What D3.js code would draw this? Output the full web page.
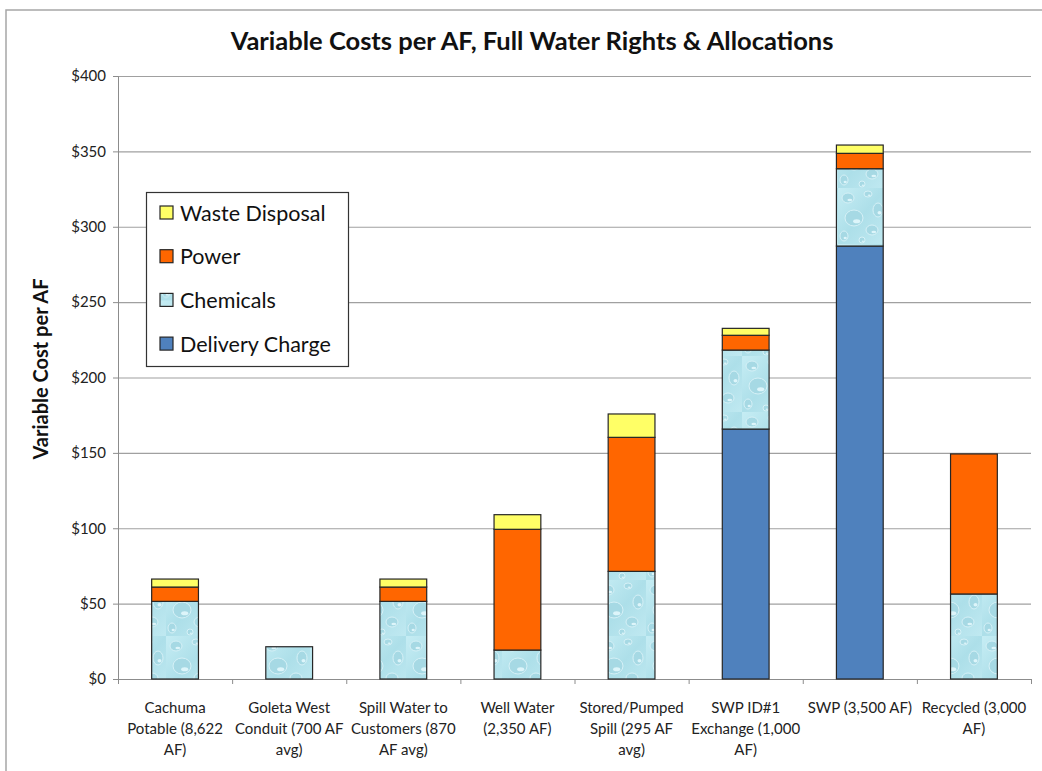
<!DOCTYPE html>
<html>
<head>
<meta charset="utf-8">
<script src="https://cdnjs.cloudflare.com/ajax/libs/d3/7.8.5/d3.min.js"></script>
<style>
  body { margin: 0; background: #fff; }
  svg text { font-family: "Lato", "Open Sans", sans-serif; }
</style>
</head>
<body>
<div id="chart"></div>
<script>
// Data
var categories = [
  "Cachuma|Potable (8,622|AF)",
  "Goleta West|Conduit (700 AF|avg)",
  "Spill Water to|Customers (870|AF avg)",
  "Well Water|(2,350 AF)",
  "Stored/Pumped|Spill (295 AF|avg)",
  "SWP ID#1|Exchange (1,000|AF)",
  "SWP (3,500 AF)",
  "Recycled (3,000|AF)"
];
var delivery = [0, 0, 0, 0, 0, 165.8, 287.2, 0];
var chemicals = [51.5, 21.4, 51.5, 19.2, 71.4, 52.4, 51.3, 56.4];
var power = [9.5, 0, 9.5, 80.1, 88.9, 9.8, 10.2, 92.9];
var waste = [5.3, 0, 5.3, 9.7, 15.5, 4.6, 5.5, 0];
var yTicks = [0, 50, 100, 150, 200, 250, 300, 350, 400];

var seriesKeys = ["delivery", "chemicals", "power", "waste"];
var seriesNames = {
  delivery: "Delivery Charge",
  chemicals: "Chemicals",
  power: "Power",
  waste: "Waste Disposal"
};
var seriesFill = {
  delivery: "#4f81bd",
  chemicals: "url(#drops)",
  power: "#ff6600",
  waste: "#ffff66"
};

var rows = categories.map(function(c, i) {
  return { cat: c, delivery: delivery[i], chemicals: chemicals[i], power: power[i], waste: waste[i] };
});

var svgWidth = 1042;
var svgHeight = 771;
var margin = { top: 76, left: 118, right: 11, bottom: 92 };
var chartWidth = svgWidth - margin.left - margin.right;
var chartHeight = svgHeight - margin.top - margin.bottom;

var svg = d3.select("#chart")
  .append("svg")
  .attr("width", svgWidth)
  .attr("height", svgHeight);

// water droplet texture for chemicals
var defs = svg.append("defs");
var grad = defs.append("linearGradient")
  .attr("id", "dropBg")
  .attr("x1", 0).attr("y1", 0).attr("x2", 1).attr("y2", 1);
grad.append("stop").attr("offset", "0%").attr("stop-color", "#c6edf4");
grad.append("stop").attr("offset", "50%").attr("stop-color", "#addfe9");
grad.append("stop").attr("offset", "100%").attr("stop-color", "#c0e9f1");

var pat = defs.append("pattern")
  .attr("id", "drops")
  .attr("patternUnits", "userSpaceOnUse")
  .attr("width", 48)
  .attr("height", 56);
pat.append("rect").attr("width", 48).attr("height", 56).attr("fill", "url(#dropBg)");
var dropList = [[10, 10, 6, 5], [30, 6, 4, 3], [40, 22, 5, 7], [16, 30, 9, 8], [34, 42, 6, 5], [6, 48, 4, 5], [24, 52, 3, 3]];
dropList.forEach(function(d) {
  pat.append("ellipse")
    .attr("cx", d[0]).attr("cy", d[1]).attr("rx", d[2]).attr("ry", d[3])
    .attr("fill", "#a6d9e4")
    .attr("stroke", "#d6f1f7")
    .attr("stroke-width", 1);
  pat.append("ellipse")
    .attr("cx", d[0] + d[2] * 0.3).attr("cy", d[1] + d[3] * 0.4)
    .attr("rx", d[2] * 0.4).attr("ry", d[3] * 0.25)
    .attr("fill", "#ddf5fa");
});

// chart area border
svg.append("rect")
  .attr("x", 6).attr("y", 10)
  .attr("width", 1060).attr("height", 780)
  .attr("fill", "none")
  .attr("stroke", "#a6a6a6")
  .attr("stroke-width", 1.5);

var chartGroup = svg.append("g")
  .attr("transform", `translate(${margin.left}, ${margin.top})`);

var xBand = d3.scaleBand()
  .domain(categories)
  .range([0, chartWidth])
  .paddingInner(0.59)
  .paddingOuter(0.295);

var yLinearScale = d3.scaleLinear()
  .domain([0, 400])
  .range([chartHeight, 0]);

// gridlines
chartGroup.append("g")
  .selectAll("line")
  .data(yTicks.filter(function(t) { return t > 0; }))
  .enter()
  .append("line")
  .attr("x1", 0)
  .attr("x2", chartWidth)
  .attr("y1", d => yLinearScale(d) + 0.5)
  .attr("y2", d => yLinearScale(d) + 0.5)
  .attr("stroke", "#a0a0a0")
  .attr("stroke-width", 1.2);

// y axis
var leftAxis = d3.axisLeft(yLinearScale)
  .tickValues(yTicks)
  .tickSize(5)
  .tickPadding(7)
  .tickFormat(d => "$" + d);
var yAxis = chartGroup.append("g").call(leftAxis);
yAxis.select(".domain").attr("stroke", "#8c8c8c");
yAxis.selectAll(".tick line").attr("stroke", "#8c8c8c");
yAxis.selectAll("text")
  .attr("font-size", "15px")
  .attr("fill", "#222");

// x axis with ticks at band edges
chartGroup.append("line")
  .attr("x1", 0).attr("x2", chartWidth)
  .attr("y1", chartHeight + 0.5).attr("y2", chartHeight + 0.5)
  .attr("stroke", "#8c8c8c");
chartGroup.append("g")
  .selectAll("line")
  .data(d3.range(categories.length + 1))
  .enter()
  .append("line")
  .attr("x1", i => i * xBand.step() + 0.5)
  .attr("x2", i => i * xBand.step() + 0.5)
  .attr("y1", chartHeight)
  .attr("y2", chartHeight + 5)
  .attr("stroke", "#8c8c8c");

// stacked bars
var stacked = d3.stack().keys(seriesKeys)(rows);
stacked.forEach(function(layer) {
  chartGroup.append("g")
    .selectAll("rect")
    .data(layer.filter(function(d) { return d[1] - d[0] > 0; }))
    .enter()
    .append("rect")
    .attr("x", d => xBand(d.data.cat))
    .attr("y", d => yLinearScale(d[1]))
    .attr("width", xBand.bandwidth())
    .attr("height", d => yLinearScale(d[0]) - yLinearScale(d[1]))
    .attr("fill", seriesFill[layer.key])
    .attr("stroke", "#262626")
    .attr("stroke-width", 1.2);
});

// category labels
var catLabels = chartGroup.append("g")
  .selectAll("text")
  .data(categories)
  .enter()
  .append("text")
  .attr("text-anchor", "middle")
  .attr("font-size", "15px")
  .attr("fill", "#222")
  .attr("transform", d => `translate(${xBand(d) + xBand.bandwidth() / 2}, ${chartHeight + 34})`);
catLabels.selectAll("tspan")
  .data(d => d.split("|"))
  .enter()
  .append("tspan")
  .attr("x", 0)
  .attr("y", (d, i) => i * 21)
  .text(d => d);

// title
svg.append("text")
  .attr("x", 532)
  .attr("y", 50)
  .attr("text-anchor", "middle")
  .attr("font-size", "25.5px")
  .attr("font-weight", "bold")
  .attr("fill", "#111")
  .text("Variable Costs per AF, Full Water Rights & Allocations");

// y axis title
svg.append("text")
  .attr("transform", "translate(48, 369) rotate(-90)")
  .attr("text-anchor", "middle")
  .attr("font-size", "20px")
  .attr("font-weight", "bold")
  .attr("fill", "#111")
  .text("Variable Cost per AF");

// legend
var legend = svg.append("g").attr("transform", "translate(146, 192)");
legend.append("rect")
  .attr("x", 0.5).attr("y", 0.5)
  .attr("width", 202).attr("height", 174)
  .attr("fill", "#fff")
  .attr("stroke", "#333")
  .attr("stroke-width", 1.2);
var legendKeys = seriesKeys.slice().reverse();
var legendItems = legend.selectAll(".item")
  .data(legendKeys)
  .enter()
  .append("g")
  .attr("transform", (d, i) => `translate(14, ${21 + i * 43.7})`);
legendItems.append("rect")
  .attr("x", 0).attr("y", -7)
  .attr("width", 13).attr("height", 13)
  .attr("fill", d => seriesFill[d])
  .attr("stroke", "#262626")
  .attr("stroke-width", 1.2);
legendItems.append("text")
  .attr("x", 20)
  .attr("y", 7.5)
  .attr("font-size", "21.5px")
  .attr("fill", "#111")
  .text(d => seriesNames[d]);
</script>
</body>
</html>
